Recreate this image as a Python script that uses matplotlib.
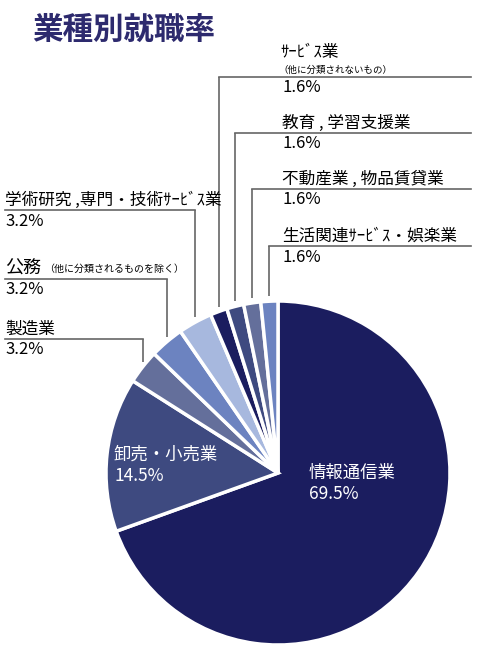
import matplotlib.pyplot as plt
import numpy as np

plt.rcParams['font.family'] = ['Noto Sans CJK JP', 'DejaVu Sans']

# data, clockwise from 12 o'clock
labels = ['情報通信業', '卸売・小売業', '製造業', '公務', '学術研究 ,専門・技術ｻｰﾋﾞｽ業',
          'ｻｰﾋﾞｽ業', '教育 , 学習支援業', '不動産業 , 物品賃貸業', '生活関連ｻｰﾋﾞｽ・娯楽業']
notes = ['', '', '', '（他に分類されるものを除く）', '', '（他に分類されないもの）', '', '', '']
values = [69.5, 14.5, 3.2, 3.2, 3.2, 1.6, 1.6, 1.6, 1.6]
colors = ['#1b1d5f', '#3e4a80', '#646f9b', '#6c83c0', '#a7b8de',
          '#1b1d5f', '#3e4a80', '#646f9b', '#6c83c0']

W, H = 500, 660


def Y(y):
    # pixel row -> data y
    return H - y


fig = plt.figure(figsize=(5, 6.6), dpi=100)
ax = fig.add_axes([0, 0, 1, 1])

cx, cy, r = 278, Y(473), 172
wedges, _ = ax.pie(values, colors=colors, startangle=90, counterclock=False,
                   center=(cx, cy), radius=r,
                   wedgeprops=dict(edgecolor='white', linewidth=2.5))
ax.set_xlim(0, W)
ax.set_ylim(0, H)
ax.set_aspect('equal')
ax.axis('off')

fig.text(32 / W, 1 - 30 / H, '業種別就職率', fontsize=22, fontweight='bold',
         color='#2d2a6e', va='center', ha='left')

# inside labels
inside = {0: (309, 473, 494), 1: (114, 455, 476)}
for i, (tx, ly, py) in inside.items():
    ax.text(tx, Y(ly), labels[i], color='white', fontsize=12.5, va='center')
    ax.text(tx, Y(py), f'{values[i]}%', color='white', fontsize=12.5, va='center')

# leader lines: line row for each small slice
line_y = {2: 339, 3: 279, 4: 210, 5: 77, 6: 133, 7: 189, 8: 246}
lc = '#666666'
for i, ly in line_y.items():
    w = wedges[i]
    mid = np.deg2rad((w.theta1 + w.theta2) / 2)
    vx = cx + r * np.cos(mid)
    vy = cy + r * np.sin(mid) + 5
    ax.plot([vx, vx], [vy, Y(ly)], color=lc, lw=1.2, solid_capstyle='butt')
    if i >= 5:
        ax.plot([vx, 471], [Y(ly), Y(ly)], color=lc, lw=1.2)
        tx = 282
    else:
        ax.plot([5, vx], [Y(ly), Y(ly)], color=lc, lw=1.2)
        tx = 5
    if i == 5:
        ax.text(280, Y(53), labels[i], fontsize=12, va='center', color='black')
        ax.text(278, Y(70), notes[i], fontsize=6.8, va='center', color='black')
    elif i == 3:
        ax.text(tx, Y(ly - 10), labels[i], fontsize=13, va='center', color='black')
        ax.text(44, Y(ly - 10), notes[i], fontsize=7.2, va='center', color='black')
    else:
        ax.text(tx, Y(ly - 10), labels[i], fontsize=12, va='center', color='black')
    ax.text(tx, Y(ly + 11), f'{values[i]}%', fontsize=12, va='center', color='black')

fig.savefig('out.png', dpi=100, facecolor='white')
